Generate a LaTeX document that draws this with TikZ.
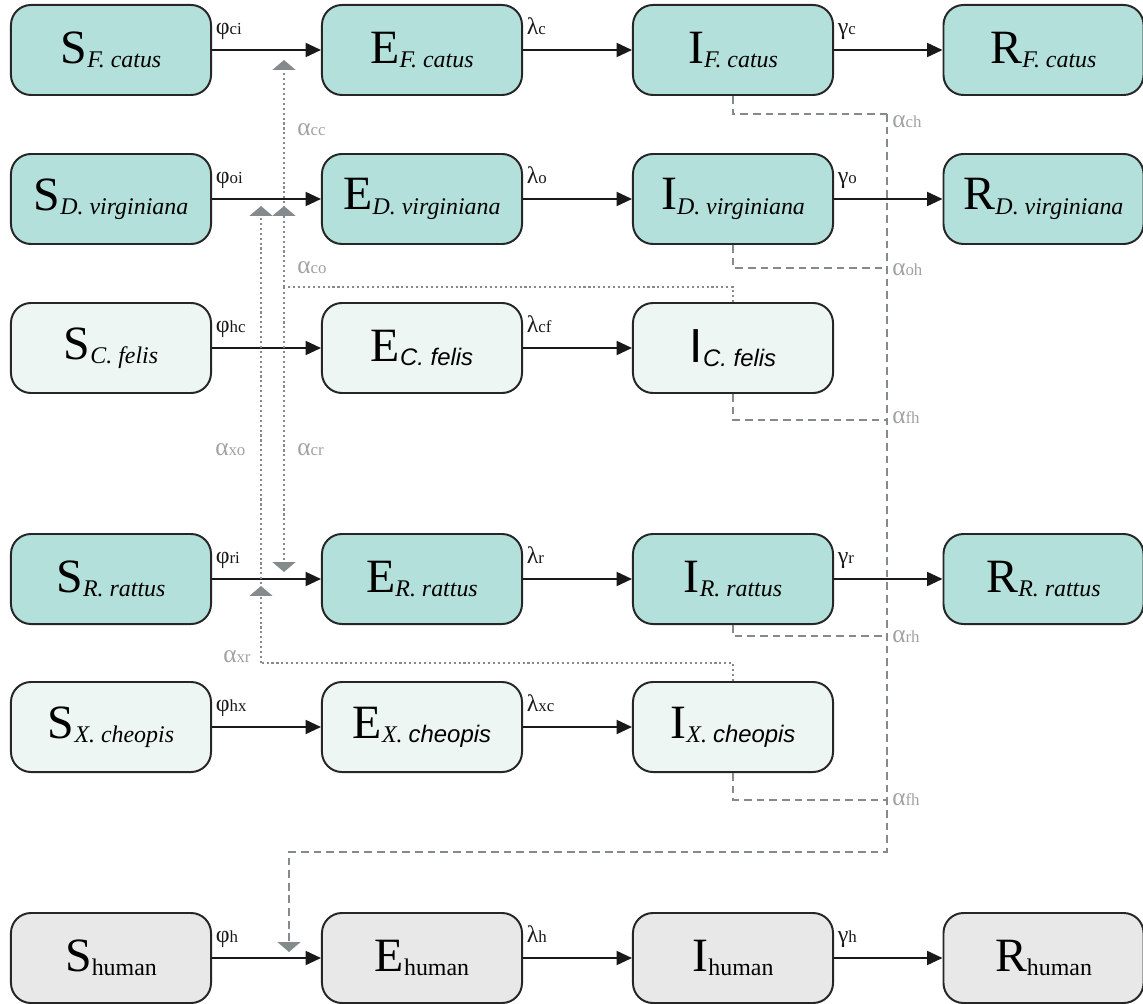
\documentclass[tikz,border=0pt]{standalone}
\usepackage{fontspec}
\setmainfont{Liberation Serif}
\newfontfamily\sansf{Liberation Sans}
\usetikzlibrary{arrows.meta}
\definecolor{tealc}{HTML}{B4E0DC}
\definecolor{litec}{HTML}{EEF6F4}
\definecolor{humc}{HTML}{E8E8E8}
\definecolor{linec}{HTML}{858A8D}
\definecolor{labc}{HTML}{A2A2A2}
\newcommand\cmp[2]{{\fontsize{34}{34}\selectfont #1}\raisebox{-3pt}{\fontsize{17}{17}\selectfont #2}}
\newcommand\lab[2]{{\fontsize{17}{17}\selectfont #1}{\fontsize{12}{12}\selectfont #2}}
\newcommand\alab[2]{{\fontsize{18}{18}\selectfont #1}{\fontsize{12}{12}\selectfont #2}}
\tikzset{
  box/.style={draw=black!85, line width=1.4pt, rounded corners=0.5cm, minimum width=5cm, minimum height=2.25cm, inner sep=0pt},
  tealbox/.style={box, fill=tealc},
  litebox/.style={box, fill=litec},
  humbox/.style={box, fill=humc},
  flow/.style={-{Triangle[length=11pt,width=10pt]}, line width=1.4pt, black!90},
  flowlab/.style={pos=0, anchor=base west, inner sep=0pt, xshift=2pt, yshift=11pt},
  vecline/.style={linec, line width=2pt, dash pattern=on 1.5pt off 2pt},
  humline/.style={linec, line width=2pt, dash pattern=on 5.5pt off 3.5pt},
  gtip/.style={-{Triangle[length=7pt,width=16pt]}},
  alabel/.style={labc, anchor=west, inner sep=0pt}
}
\begin{document}
\begin{tikzpicture}[x=0.025cm,y=-0.025cm]
\useasboundingbox (0,0) rectangle (1143,1004);
% row 1
\node[tealbox] (Sc) at (111,50) {\cmp{S}{\itshape F. catus}};
\node[tealbox] (Ec) at (422,50) {\cmp{E}{\itshape F. catus}};
\node[tealbox] (Ic) at (733,50) {\cmp{I}{\itshape F. catus}};
\node[tealbox] (Rc) at (1043.5,50) {\cmp{R}{\itshape F. catus}};
% row 2
\node[tealbox] (So) at (111,199) {\cmp{S}{\itshape D. virginiana}};
\node[tealbox] (Eo) at (422,199) {\cmp{E}{\itshape D. virginiana}};
\node[tealbox] (Io) at (733,199) {\cmp{I}{\itshape D. virginiana}};
\node[tealbox] (Ro) at (1043.5,199) {\cmp{R}{\itshape D. virginiana}};
% row 3
\node[litebox] (Sf) at (111,348) {\cmp{S}{\itshape C. felis}};
\node[litebox] (Ef) at (422,348) {\cmp{E}{\sansf\itshape C. felis}};
\node[litebox] (If) at (733,348) {\cmp{\sansf I}{\sansf\itshape C. felis}};
% row 4
\node[tealbox] (Sr) at (111,579) {\cmp{S}{\itshape R. rattus}};
\node[tealbox] (Er) at (422,579) {\cmp{E}{\itshape R. rattus}};
\node[tealbox] (Ir) at (733,579) {\cmp{I}{\itshape R. rattus}};
\node[tealbox] (Rr) at (1043.5,579) {\cmp{R}{\itshape R. rattus}};
% row 5
\node[litebox] (Sx) at (111,727) {\cmp{S}{\itshape X. cheopis}};
\node[litebox] (Ex) at (422,727) {\cmp{E}{\itshape X. {\sansf cheopis}}};
\node[litebox] (Ix) at (733,727) {\cmp{I}{\itshape X. {\sansf cheopis}}};
% row 6
\node[humbox] (Sh) at (111,958) {\cmp{S}{human}};
\node[humbox] (Eh) at (422,958) {\cmp{E}{human}};
\node[humbox] (Ih) at (733,958) {\cmp{I}{human}};
\node[humbox] (Rh) at (1043.5,958) {\cmp{R}{human}};

% flows
\draw[flow] (Sc) -- node[flowlab]{\lab{φ}{ci}} (Ec);
\draw[flow] (Ec) -- node[flowlab]{\lab{λ}{c}} (Ic);
\draw[flow] (Ic) -- node[flowlab]{\lab{γ}{c}} (Rc);
\draw[flow] (So) -- node[flowlab]{\lab{φ}{oi}} (Eo);
\draw[flow] (Eo) -- node[flowlab]{\lab{λ}{o}} (Io);
\draw[flow] (Io) -- node[flowlab]{\lab{γ}{o}} (Ro);
\draw[flow] (Sf) -- node[flowlab]{\lab{φ}{hc}} (Ef);
\draw[flow] (Ef) -- node[flowlab]{\lab{λ}{cf}} (If);
\draw[flow] (Sr) -- node[flowlab]{\lab{φ}{ri}} (Er);
\draw[flow] (Er) -- node[flowlab]{\lab{λ}{r}} (Ir);
\draw[flow] (Ir) -- node[flowlab]{\lab{γ}{r}} (Rr);
\draw[flow] (Sx) -- node[flowlab]{\lab{φ}{hx}} (Ex);
\draw[flow] (Ex) -- node[flowlab]{\lab{λ}{xc}} (Ix);
\draw[flow] (Sh) -- node[flowlab]{\lab{φ}{h}} (Eh);
\draw[flow] (Eh) -- node[flowlab]{\lab{λ}{h}} (Ih);
\draw[flow] (Ih) -- node[flowlab]{\lab{γ}{h}} (Rh);

% vector (flea) transmission, dotted
\coordinate (jc) at (284,287);
\coordinate (tcc) at (284,60);
\coordinate (tco) at (284,206);
\coordinate (tcr) at (284,572);
\coordinate (jx) at (261,663);
\coordinate (txr) at (261,586);
\coordinate (txo) at (261,206);
\draw[vecline] (If.north) |- (jc);
\draw[vecline, gtip] (jc) -- (tcc);
\draw[vecline, gtip] (jc) -- (tco);
\draw[vecline, gtip] (jc) -- (tcr);
\draw[vecline] (Ix.north) |- (jx);
\draw[vecline, gtip] (jx) -- (txr);
\draw[vecline, gtip] (jx) -- (txo);

\node[alabel] (acc) at (297,130) {\alab{α}{cc}};
\node[alabel] (aco) at (297,268) {\alab{α}{co}};
\node[alabel] (axo) at (215,450) {\alab{α}{xo}};
\node[alabel] (acr) at (297,450) {\alab{α}{cr}};
\node[alabel] (axr) at (223,657) {\alab{α}{xr}};

% human transmission, dashed
\coordinate (hc) at (887,114);
\coordinate (ho) at (887,268);
\coordinate (hf) at (887,420);
\coordinate (hr) at (887,636);
\coordinate (hx) at (887,800);
\coordinate (hb) at (887,852);
\coordinate (th) at (289,952);
\draw[humline] (Ic.south) |- (hc);
\draw[humline] (Io.south) |- (ho);
\draw[humline] (If.south) |- (hf);
\draw[humline] (Ir.south) |- (hr);
\draw[humline] (Ix.south) |- (hx);
\draw[humline, gtip] (hc) -- (hb) -| (th);

\node[alabel] (ach) at (892,122) {\alab{α}{ch}};
\node[alabel] (aoh) at (892,270) {\alab{α}{oh}};
\node[alabel] (afh) at (892,418) {\alab{α}{fh}};
\node[alabel] (arh) at (892,637) {\alab{α}{rh}};
\node[alabel] (afh2) at (892,800) {\alab{α}{fh}};
\end{tikzpicture}
\end{document}
